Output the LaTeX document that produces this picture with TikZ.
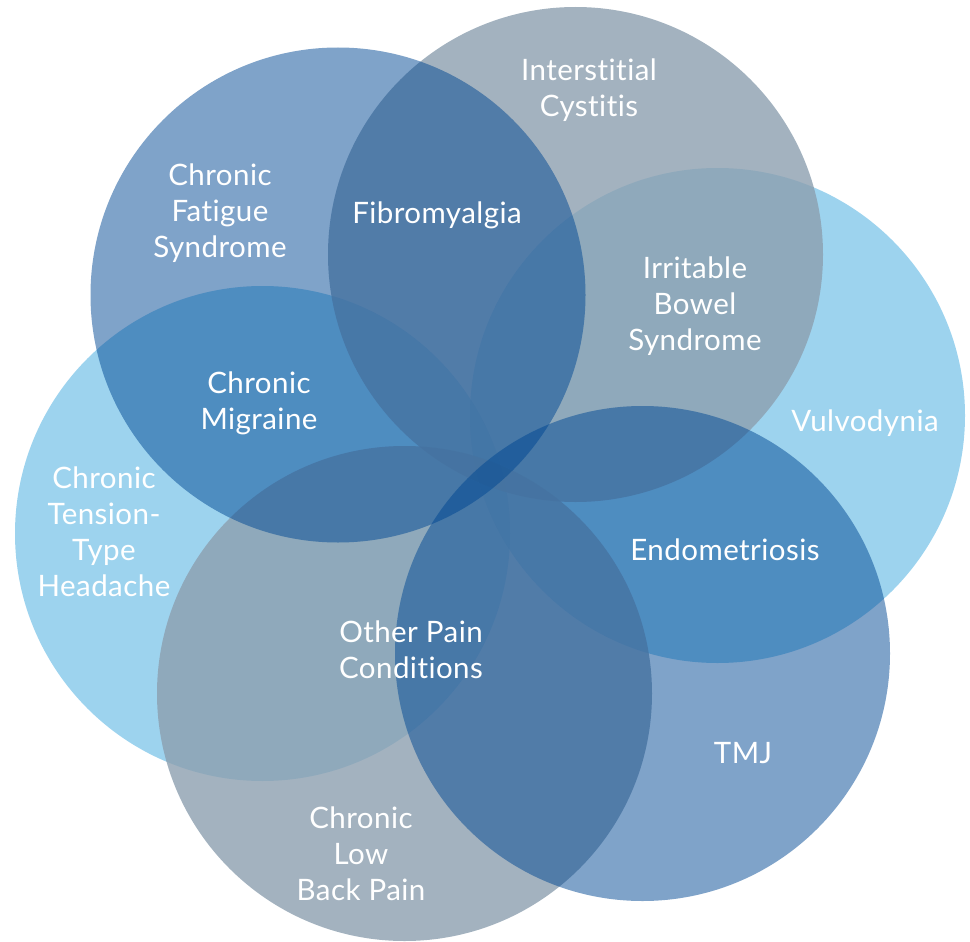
\documentclass[tikz,border=0pt]{standalone}
\usepackage{fontspec}
\setmainfont{Lato}[Ligatures={NoCommon}, LetterSpace=1.5]
\definecolor{lbase}{RGB}{92,182,227}
\definecolor{gbase}{RGB}{140,159,175}
\definecolor{dbase}{RGB}{0,71,147}
\begin{document}
\begin{tikzpicture}[x=1pt,y=-1pt,
  disc/.style={circle, minimum size=495pt, inner sep=0pt, draw=none},
  lightdisc/.style={disc, fill=lbase, fill opacity=0.6},
  graydisc/.style={disc, fill=gbase, fill opacity=0.8},
  darkdisc/.style={disc, fill=dbase, fill opacity=0.5},
  lab/.style={text=white, align=center, inner sep=0pt, font=\fontsize{29.5}{36}\selectfont}]
\useasboundingbox (0,0) rectangle (970,942);
% light blue (bottom layer)
\node[lightdisc] (ctth) at (262.5,533.5) {};
\node[lightdisc] (vulv) at (717.5,415.5) {};
% gray (middle layer)
\node[graydisc] (ic) at (575.5,254.5) {};
\node[graydisc] (clbp) at (404.5,693.5) {};
% dark blue (top layer)
\node[darkdisc] (cfs) at (338,295) {};
\node[darkdisc] (tmj) at (642.5,653.5) {};
% labels
\node[lab] (t-cfs) at (220,213) {Chronic\\Fatigue\\Syndrome};
\node[lab] (t-fib) at (437,215) {Fibromyalgia};
\node[lab] (t-ic) at (589,90) {Interstitial\\Cystitis};
\node[lab] (t-ibs) at (695,306) {Irritable\\Bowel\\Syndrome};
\node[lab] (t-vul) at (865,423) {Vulvodynia};
\node[lab] (t-cm) at (259,403) {Chronic\\Migraine};
\node[lab] (t-ctth) at (104,532) {Chronic\\Tension-\\Type\\Headache};
\node[lab] (t-opc) at (411,650) {Other Pain\\Conditions};
\node[lab] (t-endo) at (725,550) {Endometriosis};
\node[lab] (t-tmj) at (743,753) {TMJ};
\node[lab] (t-clbp) at (361,854) {Chronic\\Low\\Back Pain};
\end{tikzpicture}
\end{document}
